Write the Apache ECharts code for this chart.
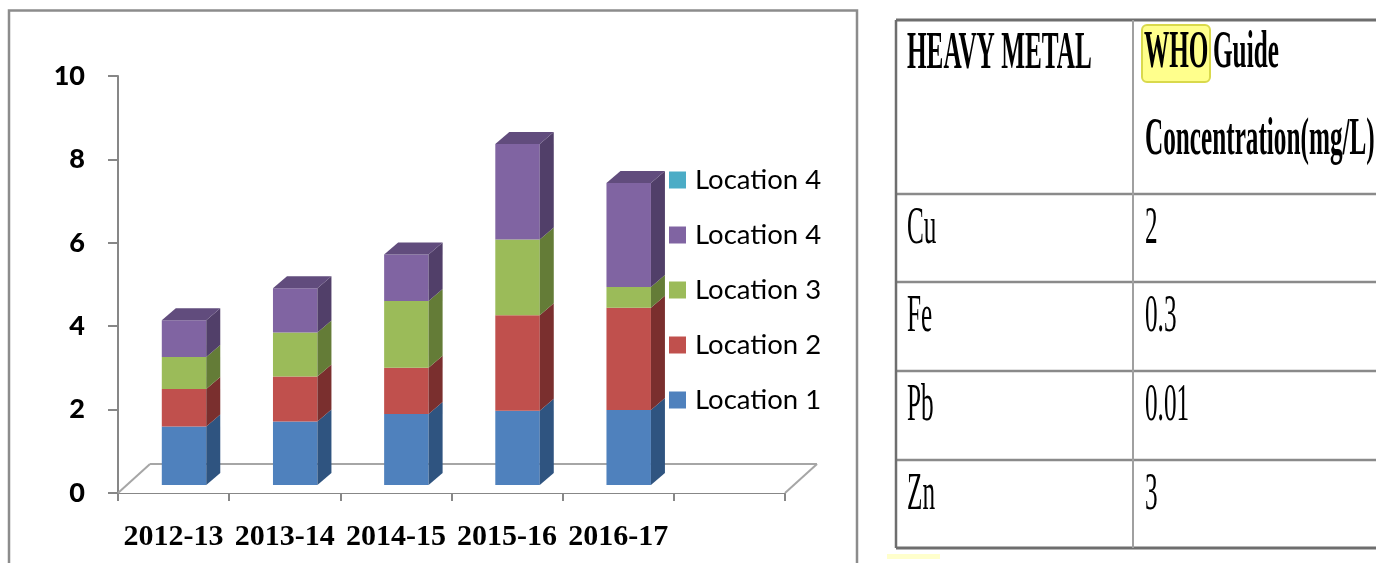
<!DOCTYPE html>
<html><head><meta charset="utf-8">
<script src="https://cdn.jsdelivr.net/npm/echarts@6/dist/echarts.min.js"></script>
<style>html,body{margin:0;padding:0;background:#fff}#c{width:1376px;height:563px}</style>
</head><body><div id="c"></div>
<script>
// ---------------- data ----------------
const categories = ['2012-13', '2013-14', '2014-15', '2015-16', '2016-17', ''];
const location1 = [1.40, 1.52, 1.70, 1.78, 1.80];
const location2 = [0.90, 1.08, 1.11, 2.29, 2.45];
const location3 = [0.77, 1.06, 1.60, 1.82, 0.50];
const location4 = [0.88, 1.06, 1.12, 2.29, 2.49];
const location4b = [0, 0, 0, 0, 0];
const yMin = 0, yMax = 10, yStep = 2;
const tableHeadLeft = 'HEAVY METAL';
const tableHeadWho = 'WHO';
const tableHeadGuide = 'Guide';
const tableHeadUnit = 'Concentration(mg/L)';
const metals = ['Cu', 'Fe', 'Pb', 'Zn'];
const whoLimits = ['2', '0.3', '0.01', '3'];

// ---------------- styles ----------------
const seriesDefs = [
  { name: 'Location 1', values: location1, front: '#4F81BD', side: '#2F5480', top: '#3D6699' },
  { name: 'Location 2', values: location2, front: '#C0504D', side: '#7A2F2E', top: '#98403D' },
  { name: 'Location 3', values: location3, front: '#9BBB59', side: '#647C37', top: '#7C9747' },
  { name: 'Location 4', values: location4, front: '#8064A2', side: '#513F69', top: '#614C7D' },
  { name: 'Location 4 ', values: location4b, front: '#4BACC6', side: '#2E7A8F', top: '#3A8FA6' }
];

// stacked bases
const nCat = seriesDefs[0].values.length;
const cum = new Array(nCat).fill(0);
const lastIdx = new Array(nCat).fill(-1);
seriesDefs.forEach((s, si) => s.values.forEach((v, i) => { if (v > 0) lastIdx[i] = si; }));
const stackedData = seriesDefs.map((s, si) => s.values.map((v, i) => {
  const b = cum[i]; cum[i] += v;
  return [i, b, cum[i], lastIdx[i] === si ? 1 : 0];
}));

function barRenderer(def) {
  return function (params, api) {
    const c = api.value(0), b = api.value(1), t = api.value(2), isTop = api.value(3);
    if (!(t - b > 0)) return;
    const band = api.size([1, 0])[0];
    const pb = api.coord([c, b]), pt = api.coord([c, t]);
    const w = band * 0.40, shiftX = band * 0.094, shiftY = 8;
    const dx = band * 0.126, dy = 12;
    const xl = pb[0] + shiftX - w / 2, xr = xl + w;
    const yb = pb[1] - shiftY, yt = pt[1] - shiftY;
    const children = [
      { type: 'rect', shape: { x: xl, y: yt, width: w, height: yb - yt }, style: { fill: def.front } },
      { type: 'polygon', shape: { points: [[xr, yb], [xr, yt], [xr + dx, yt - dy], [xr + dx, yb - dy]] }, style: { fill: def.side } }
    ];
    if (isTop) {
      children.push({ type: 'polygon', shape: { points: [[xl, yt], [xr, yt], [xr + dx, yt - dy], [xl + dx, yt - dy]] }, style: { fill: def.top } });
    }
    return { type: 'group', children };
  };
}

function floorRenderer(params, api) {
  const band = api.size([1, 0])[0];
  const p = api.coord([0, 0]);
  const x0 = p[0] - band / 2, x1 = x0 + band * categories.length, y0 = p[1];
  const ddx = band * 0.288, ddy = 29;
  const ls = { stroke: '#A6A6A6', lineWidth: 2, fill: null };
  return { type: 'group', children: [
    { type: 'polygon', shape: { points: [[x0, y0], [x0 + ddx, y0 - ddy], [x1 + ddx, y0 - ddy], [x1, y0]] }, style: { fill: '#fff', stroke: null } },
    { type: 'line', shape: { x1: x0, y1: y0, x2: x0 + ddx, y2: y0 - ddy }, style: ls },
    { type: 'line', shape: { x1: x0 + ddx, y1: y0 - ddy, x2: x1 + ddx, y2: y0 - ddy }, style: ls },
    { type: 'line', shape: { x1: x1 + ddx, y1: y0 - ddy, x2: x1, y2: y0 }, style: ls }
  ]};
}

const series = [{
  type: 'custom', name: '__floor', z: 1, silent: true, clip: false,
  renderItem: floorRenderer, data: [[0, 0]], encode: { x: 0, y: 1 }
}].concat(seriesDefs.map((def, si) => ({
  type: 'custom', name: def.name, z: 2 + si, clip: false,
  itemStyle: { color: def.front },
  renderItem: barRenderer(def),
  encode: { x: 0, y: [1, 2] },
  data: stackedData[si]
})));

// ---------------- table (graphic) ----------------
const tLeft = 896, tDiv = 1133, tRight = 1376;
const rowLines = [20, 194, 282, 371, 460, 548];
const serifFont = '"Liberation Serif", "Times New Roman", serif';
const graphic = [];
// chart panel border
graphic.push({ type: 'rect', shape: { x: 9, y: 10.5, width: 848, height: 620 }, style: { fill: null, stroke: '#8C8C8C', lineWidth: 2.5 }, z: 0 });
// WHO highlight
graphic.push({ type: 'rect', shape: { x: 1142, y: 25, width: 68, height: 57, r: 5 }, style: { fill: '#FFFF8C', stroke: '#D9D94C', lineWidth: 2 } });
graphic.push({ type: 'rect', shape: { x: 887, y: 554, width: 53, height: 5 }, style: { fill: '#FFFFCC' } });
// horizontal lines
rowLines.forEach((y, i) => {
  const edge = (i === 0 || i === rowLines.length - 1);
  graphic.push({ type: 'line', shape: { x1: tLeft, y1: y, x2: tRight, y2: y }, style: { stroke: edge ? '#6E6E6E' : '#8A8A8A', lineWidth: edge ? 3 : 2.5 } });
});
graphic.push({ type: 'line', shape: { x1: tLeft, y1: rowLines[0], x2: tLeft, y2: rowLines[5] }, style: { stroke: '#6E6E6E', lineWidth: 2.5 } });
graphic.push({ type: 'line', shape: { x1: tDiv, y1: rowLines[0], x2: tDiv, y2: rowLines[5] }, style: { stroke: '#A0A0A0', lineWidth: 2 } });

function tText(str, x, y, bold) {
  return { type: 'text', x: x, y: y, scaleX: 0.485, z: 10,
    style: { text: str, font: (bold ? 'bold ' : '') + '52px ' + serifFont, fill: '#000', align: 'left', verticalAlign: 'middle' } };
}
graphic.push(tText(tableHeadLeft, 907, 55, true));
graphic.push(tText(tableHeadWho, 1144, 54, true));
graphic.push(tText(tableHeadGuide, 1213, 54, true));
graphic.push(tText(tableHeadUnit, 1145, 141, true));
metals.forEach((m, i) => {
  const cy = rowLines[i + 1] + 35;
  graphic.push(tText(m, 907, cy, false));
  graphic.push(tText(whoLimits[i], 1145, cy, false));
});

// ---------------- chart ----------------
const chart = echarts.init(document.getElementById('c'), null, { renderer: 'canvas' });
chart.setOption({
  animation: false,
  backgroundColor: '#fff',
  grid: { left: 118, top: 76, width: 667, height: 417, containLabel: false },
  xAxis: {
    type: 'category', data: categories, boundaryGap: true,
    axisLine: { show: true, lineStyle: { color: '#878787', width: 2 } },
    axisTick: { show: true, interval: 0, length: 8, lineStyle: { color: '#878787', width: 2 } },
    axisLabel: { interval: 0, margin: 29, color: '#000', fontFamily: serifFont, fontWeight: 'bold', fontSize: 30 },
    splitLine: { show: false }
  },
  yAxis: {
    type: 'value', min: yMin, max: yMax, interval: yStep,
    axisLine: { show: true, lineStyle: { color: '#878787', width: 2 } },
    axisTick: { show: true, length: 10, lineStyle: { color: '#878787', width: 2 } },
    axisLabel: { margin: 33, color: '#000', fontFamily: 'Lato', fontWeight: 900, fontSize: 27 },
    splitLine: { show: false }
  },
  legend: {
    orient: 'vertical', left: 669, top: 165, padding: 0,
    itemWidth: 17, itemHeight: 17, itemGap: 25, icon: 'rect',
    data: ['Location 4 ', 'Location 4', 'Location 3', 'Location 2', 'Location 1'],
    formatter: n => n.trim(),
    textStyle: { fontFamily: 'Lato', fontSize: 27.5, color: '#000', lineHeight: 30, padding: [0, 0, 0, 4] },
    selectedMode: false
  },
  graphic: graphic,
  series: series
});
</script>
</body></html>
